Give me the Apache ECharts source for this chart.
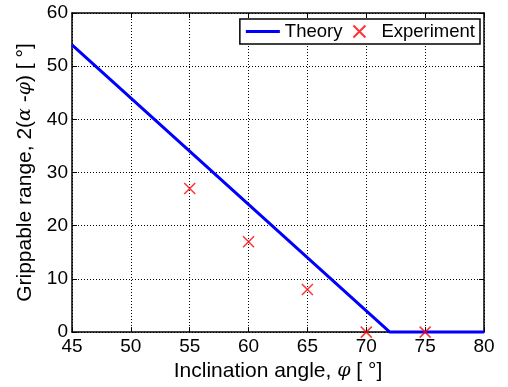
<!DOCTYPE html>
<html><head><meta charset="utf-8">
<script src="https://cdn.jsdelivr.net/npm/echarts@6/dist/echarts.min.js"></script>
<style>html,body{margin:0;padding:0;background:#fff}#c{width:508px;height:387px}</style>
</head><body><div id="c"></div>
<script>
const xTicks = [45, 50, 55, 60, 65, 70, 75, 80];
const yTicks = [0, 10, 20, 30, 40, 50, 60];
const theoryX = [45, 72, 80];
const theoryY = [54, 0, 0];
const expX = [55, 60, 65, 70, 75];
const expY = [27, 17, 8, 0, 0];

const FONT = 'Liberation Sans, Arial, sans-serif';
const chart = echarts.init(document.getElementById('c'), null, {renderer: 'canvas'});
const xMark = 'path://M0,0L10,10M10,0L0,10';
const axisCommon = {
  axisLine: {show: true, onZero: false, lineStyle: {color: '#000', width: 1.5}},
  axisTick: {show: true, inside: true, length: 5, lineStyle: {color: '#000', width: 1}},
};
const richName = {
  n: {fontFamily: FONT, fontSize: 21, color: '#000'},
  i: {fontFamily: 'DejaVu Serif, serif', fontStyle: 'italic', fontSize: 19, color: '#000'}
};
chart.setOption({
  animation: false,
  grid: {left: 72, right: 24, top: 13, bottom: 53, containLabel: false},
  legend: {
    right: 28, top: 19, orient: 'horizontal',
    backgroundColor: '#fff', borderColor: '#000', borderWidth: 1.5,
    padding: [3, 5, 3, 6], itemGap: 10, itemWidth: 34, itemHeight: 12,
    textStyle: {fontFamily: FONT, fontSize: 18.5, color: '#000'},
    data: [
      {name: 'Theory', icon: 'path://M0,0H32V3H0Z', itemStyle: {color: '#0000ff'}},
      {name: 'Experiment'}
    ]
  },
  xAxis: [
    Object.assign({}, axisCommon, {
      type: 'value', min: 45, max: 80, interval: 5, position: 'bottom',
      axisLabel: {fontFamily: FONT, fontSize: 19, color: '#000', margin: 5},
      splitLine: {show: true, lineStyle: {color: '#000', type: [1, 2], width: 1}},
      name: '{n|Inclination angle, }{i|φ}{n| [ °]}', nameLocation: 'middle', nameGap: 27,
      nameTextStyle: {rich: richName}
    }),
    Object.assign({}, axisCommon, {
      type: 'value', min: 45, max: 80, interval: 5, position: 'top',
      axisLabel: {show: false}, splitLine: {show: false}
    })
  ],
  yAxis: [
    Object.assign({}, axisCommon, {
      type: 'value', min: 0, max: 60, interval: 10, position: 'left',
      axisLabel: {fontFamily: FONT, fontSize: 19, color: '#000', margin: 4},
      splitLine: {show: true, lineStyle: {color: '#000', type: [1, 2], width: 1}},
      name: '{n|Grippable range, 2(}{i|α}{n| -}{i|φ}{n|) [ °]}', nameLocation: 'middle', nameGap: 35, nameRotate: 90,
      nameTextStyle: {rich: richName}
    }),
    Object.assign({}, axisCommon, {
      type: 'value', min: 0, max: 60, interval: 10, position: 'right',
      axisLabel: {show: false}, splitLine: {show: false}
    })
  ],
  series: [
    {
      name: 'Theory', type: 'line', xAxisIndex: 0, yAxisIndex: 0,
      data: theoryX.map((x, i) => [x, theoryY[i]]),
      showSymbol: false, symbol: 'none', clip: false,
      lineStyle: {color: '#0000ff', width: 3}, itemStyle: {color: '#0000ff'}, z: 3
    },
    {
      name: 'Experiment', type: 'scatter', xAxisIndex: 0, yAxisIndex: 0,
      data: expX.map((x, i) => [x, expY[i]]),
      symbol: xMark, symbolSize: 11, clip: false,
      itemStyle: {color: 'rgba(0,0,0,0)', borderColor: '#ff0000', borderWidth: 1.5}, z: 4
    }
  ]
});
</script></body></html>
